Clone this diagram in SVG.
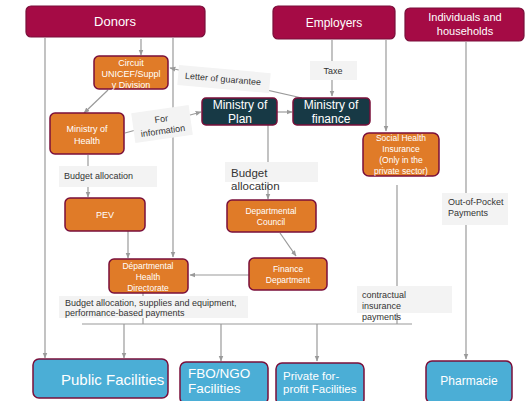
<svg xmlns="http://www.w3.org/2000/svg" width="527" height="401" viewBox="0 0 527 401">
<defs>
<marker id="ah" viewBox="0 0 10 10" refX="9" refY="5" markerWidth="6" markerHeight="6" orient="auto-start-reverse" markerUnits="userSpaceOnUse">
<path d="M0,1 L10,5 L0,9 z" fill="#9a9a9a"/>
</marker>
<style>
text{font-family:"Liberation Sans",Arial,sans-serif;}
.top{fill:#A50B45;stroke:#7A0F3A;stroke-width:1.2;}
.org{fill:#E07B28;stroke:#7A0F3A;stroke-width:1.5;}
.dk{fill:#173945;stroke:#7A0F3A;stroke-width:1.5;}
.blu{fill:#4BAED6;stroke:#7A0F3A;stroke-width:1.5;}
.w{fill:#fff;text-anchor:middle;}
.wl{fill:#fff;}
.lbl{fill:#F3F3F3;}
.lt{fill:#333;font-size:9px;}
.ln{stroke:#9a9a9a;stroke-width:1.2;fill:none;}
.la{stroke:#9a9a9a;stroke-width:1.2;fill:none;marker-end:url(#ah);}
</style>
</defs>
<rect width="527" height="401" fill="#fff"/>

<g id="connectors">
<line class="la" x1="141" y1="39" x2="141" y2="55"/>
<line class="la" x1="45" y1="38" x2="45" y2="358"/>
<line class="la" x1="173" y1="38" x2="173" y2="257"/>
<line class="la" x1="332" y1="40" x2="332" y2="96"/>
<line class="la" x1="386" y1="40" x2="386" y2="131"/>
<line class="la" x1="466" y1="42" x2="466" y2="359"/>
<line class="la" x1="302" y1="98" x2="170" y2="68"/>
<line class="la" x1="277" y1="112" x2="292" y2="112"/>
<line class="la" x1="125" y1="133" x2="201" y2="112"/>
<line class="la" x1="108" y1="90" x2="84" y2="113"/>
<line class="la" x1="88" y1="155" x2="88" y2="197"/>
<line class="la" x1="128" y1="231" x2="128" y2="258"/>
<line class="la" x1="268" y1="125" x2="268" y2="199"/>
<line class="la" x1="280" y1="233" x2="296" y2="256"/>
<line class="la" x1="249" y1="275" x2="190" y2="275"/>
<line class="ln" x1="143" y1="293" x2="143" y2="324"/>
<line class="ln" x1="397" y1="185" x2="397" y2="324"/>
<line class="ln" x1="82" y1="324" x2="412" y2="324"/>
<line class="la" x1="124" y1="324" x2="124" y2="358"/>
<line class="la" x1="221" y1="324" x2="221" y2="361"/>
<line class="la" x1="317" y1="324" x2="317" y2="361"/>
</g>

<g id="labels">
<g transform="rotate(5 223 79)">
<rect class="lbl" x="178" y="69" width="92" height="20"/>
<text class="lt" x="223" y="82" text-anchor="middle">Letter of guarantee</text>
</g>
<rect class="lbl" x="310" y="61" width="47" height="19"/>
<text class="lt" x="333" y="74" text-anchor="middle" font-size="9.5">Taxe</text>
<g transform="rotate(-8 162 124)">
<rect class="lbl" x="133" y="109" width="58" height="30"/>
<text class="lt" x="162" y="122" text-anchor="middle">For</text>
<text class="lt" x="162" y="134" text-anchor="middle">information</text>
</g>
<rect class="lbl" x="59" y="166" width="98" height="21"/>
<text class="lt" x="64" y="179" font-size="10">Budget allocation</text>
<rect class="lbl" x="225" y="162" width="93" height="20"/>
<text x="231" y="177" font-size="11.5" fill="#333">Budget</text>
<text x="231" y="190" font-size="11.5" fill="#333">allocation</text>
<rect class="lbl" x="442" y="193" width="66" height="32"/>
<text class="lt" x="448" y="205">Out-of-Pocket</text>
<text class="lt" x="448" y="216">Payments</text>
<rect class="lbl" x="357" y="286" width="95" height="27"/>
<text class="lt" x="362" y="298">contractual</text>
<text class="lt" x="362" y="309">insurance</text>
<text class="lt" x="362" y="320">payments</text>
<rect class="lbl" x="59" y="296" width="189" height="22"/>
<text class="lt" x="65" y="306" font-size="8.2">Budget allocation, supplies and equipment,</text>
<text class="lt" x="65" y="316" font-size="8.2">performance-based payments</text>
</g>

<g id="donors"><rect class="top" x="26" y="6" width="179" height="31" rx="5"/><text class="w" x="115" y="26" font-size="13">Donors</text></g>
<g id="employers"><rect class="top" x="273" y="6" width="122" height="33" rx="5"/><text class="w" x="334" y="27" font-size="12">Employers</text></g>
<g id="households"><rect class="top" x="405" y="8" width="119" height="33" rx="5"/><text class="w" x="465" y="21" font-size="11">Individuals and</text><text class="w" x="465" y="35" font-size="11">households</text></g>

<g id="circuit"><rect class="org" x="94" y="56" width="74" height="33" rx="5"/><text class="w" x="131" y="66" font-size="9">Circuit</text><text class="w" x="131" y="77" font-size="9">UNICEF/Suppl</text><text class="w" x="131" y="88" font-size="9">y Division</text></g>
<g id="moh"><rect class="org" x="50" y="113" width="74" height="41" rx="5"/><text class="w" x="87" y="132" font-size="9">Ministry of</text><text class="w" x="87" y="144" font-size="9">Health</text></g>
<g id="plan"><rect class="dk" x="202" y="98" width="75" height="27" rx="4"/><text class="w" x="240" y="109" font-size="12">Ministry of</text><text class="w" x="240" y="123" font-size="12">Plan</text></g>
<g id="finance"><rect class="dk" x="293" y="98" width="77" height="27" rx="4"/><text class="w" x="331" y="109" font-size="12">Ministry of</text><text class="w" x="331" y="123" font-size="12">finance</text></g>
<g id="shi"><rect class="org" x="363" y="133" width="76" height="43" rx="6"/><text class="w" x="401" y="141" font-size="8.5">Social Health</text><text class="w" x="401" y="152" font-size="8.5">Insurance</text><text class="w" x="401" y="163" font-size="8.5">(Only in the</text><text class="w" x="401" y="174" font-size="8.5">private sector)</text></g>
<g id="pev"><rect class="org" x="65" y="198" width="80" height="33" rx="5"/><text class="w" x="105" y="218" font-size="9">PEV</text></g>
<g id="council"><rect class="org" x="227" y="200" width="89" height="32" rx="5"/><text class="w" x="271" y="214" font-size="8.5">Departmental</text><text class="w" x="271" y="225" font-size="8.5">Council</text></g>
<g id="findept"><rect class="org" x="249" y="258" width="78" height="32" rx="5"/><text class="w" x="288" y="272" font-size="8.5">Finance</text><text class="w" x="288" y="283" font-size="8.5">Department</text></g>
<g id="dhd"><rect class="org" x="109" y="259" width="79" height="34" rx="5"/><text class="w" x="148" y="269" font-size="8.5">Départmental</text><text class="w" x="148" y="280" font-size="8.5">Health</text><text class="w" x="148" y="291" font-size="8.5">Directorate</text></g>

<g id="public"><rect class="blu" x="33" y="359" width="135" height="39" rx="6"/><text class="wl" x="61" y="385" font-size="15">Public Facilities</text></g>
<g id="fbo"><rect class="blu" x="180" y="362" width="88" height="42" rx="6"/><text class="wl" x="188" y="378" font-size="13.5">FBO/NGO</text><text class="wl" x="188" y="393" font-size="13.5">Facilities</text></g>
<g id="private"><rect class="blu" x="276" y="363" width="88" height="42" rx="6"/><text class="wl" x="283" y="380" font-size="11.5">Private for-</text><text class="wl" x="283" y="393" font-size="11.5">profit Facilities</text></g>
<g id="pharmacie"><rect class="blu" x="426" y="361" width="86" height="42" rx="6"/><text class="w" x="469" y="385" font-size="12">Pharmacie</text></g>
</svg>
